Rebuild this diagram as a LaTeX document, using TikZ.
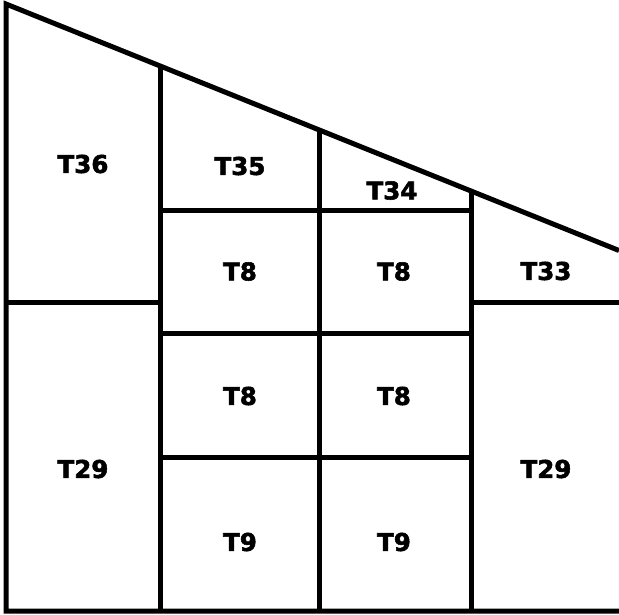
\documentclass[tikz,border=0pt]{standalone}
\usepackage{fontspec}
\newfontface\roomfont{DejaVu Sans Bold}[FakeBold=2.2]

\begin{document}
\begin{tikzpicture}[x=1pt,y=-1pt,
    wall/.style={draw=black,line width=5pt,line join=miter},
    room/.style={font=\roomfont\fontsize{24.5}{28}\selectfont,
      inner sep=0pt}]
  \useasboundingbox (0,0) rectangle (619,614);
  % outline
  \coordinate (tl) at (6,4);
  \coordinate (tr) at (619,250.5);
  \coordinate (bl) at (6,611);
  \coordinate (br) at (619,611);
  \draw[wall] (br) -- (bl) -- (tl) -- (tr);
  % columns
  \coordinate (c1) at (160,65.9);
  \coordinate (c2) at (319,129.8);
  \coordinate (c3) at (471,191);
  \draw[wall] (c1) -- (c1 |- bl);
  \draw[wall] (c2) -- (c2 |- bl);
  \draw[wall] (c3) -- (c3 |- bl);
  % rows
  \draw[wall] (tl |- 0,302.5) -- (c1 |- 0,302.5);
  \draw[wall] (c3 |- 0,302.5) -- (tr |- 0,302.5);
  \draw[wall] (c1 |- 0,210) -- (c3 |- 0,210);
  \draw[wall] (c1 |- 0,333) -- (c3 |- 0,333);
  \draw[wall] (c1 |- 0,457) -- (c3 |- 0,457);
  % labels
  \node[room] (t36) at (83,164) {T36};
  \node[room] (t35) at (240,166) {T35};
  \node[room] (t34) at (392,190.5) {T34};
  \node[room] (t33) at (546,271) {T33};
  \node[room] (t8a) at (240,271.5) {T8};
  \node[room] (t8b) at (394,271.5) {T8};
  \node[room] (t8c) at (240,396) {T8};
  \node[room] (t8d) at (394,396) {T8};
  \node[room] (t29a) at (83,469) {T29};
  \node[room] (t29b) at (546,469) {T29};
  \node[room] (t9a) at (240,542) {T9};
  \node[room] (t9b) at (394,542) {T9};
\end{tikzpicture}
\end{document}
